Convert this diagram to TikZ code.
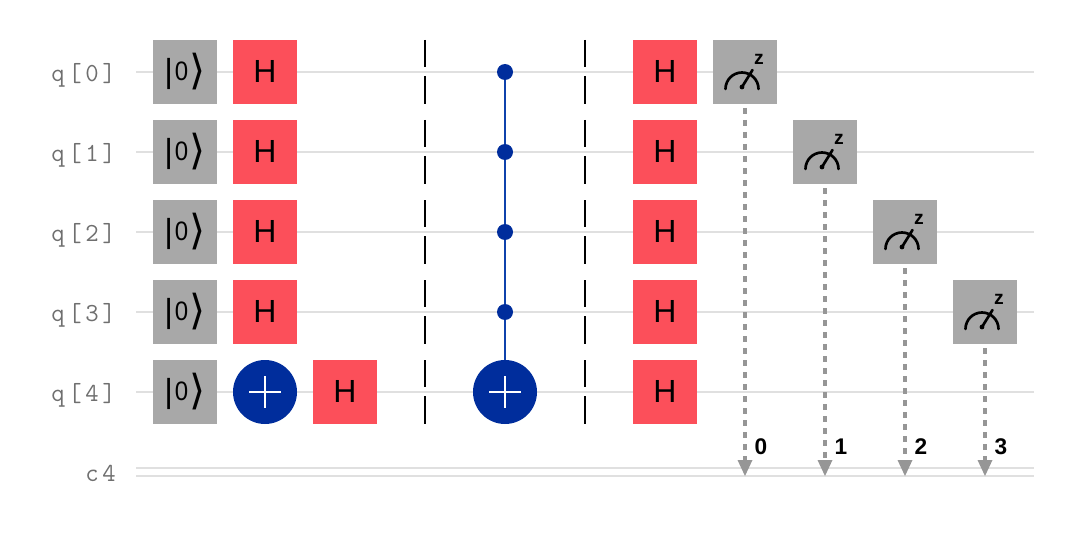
\documentclass[tikz,border=0pt]{standalone}
\usepackage{fontspec}
\setmainfont{Liberation Sans}
\setmonofont[LetterSpace=14]{Latin Modern Mono}
\newfontfamily\dejavu{DejaVu Sans}
\usetikzlibrary{calc,arrows.meta}
\definecolor{gatered}{HTML}{FC4F5A}
\definecolor{gategray}{HTML}{A8A8A8}
\definecolor{wirec}{HTML}{E0E0E0}
\definecolor{navy}{HTML}{002D9C}
\definecolor{linkb}{HTML}{0F42AC}
\definecolor{measc}{HTML}{969696}
\definecolor{labc}{HTML}{6F6F6F}
\tikzset{
  x=0.75pt,y=-0.75pt,
  wire/.style={draw=wirec,line width=1.5pt},
  regl/.style={anchor=east,inner sep=0pt,text=labc,font=\ttfamily\fontsize{19.5}{21}\selectfont},
  gatebox/.style={minimum size=48pt,inner sep=0pt,outer sep=0pt,fill=#1,text=black},
  hgate/.style={gatebox=gatered,font=\fontsize{24}{26}\selectfont},
  ket/.style={gatebox=gategray,font=\fontsize{20}{24}\selectfont},
  meas/.style={gatebox=gategray},
  target/.style={circle,minimum size=48pt,inner sep=0pt,outer sep=0pt,fill=navy},
  ctrl/.style={circle,minimum size=12pt,inner sep=0pt,outer sep=0pt,fill=navy},
  plusl/.style={draw=white,line width=1.6pt},
  barr/.style={draw=black,line width=1.5pt},
  link/.style={draw=linkb,line width=1.4pt},
  measl/.style={draw=measc,line width=2.4pt,dash pattern=on 4.5pt off 4.5pt},
  measa/.style={fill=measc,draw=none},
  clab/.style={inner sep=0pt,font=\bfseries\fontsize{17}{19}\selectfont},
  zlab/.style={inner sep=0pt,font=\bfseries\fontsize{14.5}{16}\selectfont},
  dial/.style={draw=black,line width=2pt,line cap=round},
}
\newcommand{\kettext}{{\fontsize{25}{26}\selectfont\raisebox{-1pt}{|}}\hspace{1.5pt}\raisebox{1pt}{\scalebox{0.9}[1.0]{0}}\hspace{1pt}{\dejavu\fontsize{31}{32}\selectfont\raisebox{-2.5pt}{⟩}}}
\newcommand{\hh}{\raisebox{1.5pt}{H}}
\begin{document}
\begin{tikzpicture}
\useasboundingbox (0,0) rectangle (1072,560);
% wires
\foreach \y in {72,152,232,312,392} \draw[wire] (136,\y) -- (1034,\y);
\draw[wire] (136,468) -- (1034,468);
\draw[wire] (136,476) -- (1034,476);
% labels
\foreach \i/\y in {0/75,1/155,2/235,3/315,4/395}
  \node[regl] (reg\i) at (116,\y) {q[\i]};
\node[regl] (regc) at (116,473) {c4};
% barriers
\foreach \bx in {425,585}
  \foreach \y in {72,152,232,312,392} {
    \draw[barr] (\bx,\y-32) -- (\bx,\y-5);
    \draw[barr] (\bx,\y+4) -- (\bx,\y+32);
  }
% reset
\foreach \i/\y in {0/72,1/152,2/232,3/312,4/392}
  \node[ket] (k\i) at (185,\y) {\kettext};
% H column 1
\foreach \i/\y in {0/72,1/152,2/232,3/312}
  \node[hgate] (ha\i) at (265,\y) {\hh};
\node[target] (ta) at (265,392) {};
\draw[plusl] ($(ta.center)+(-16,0)$) -- ($(ta.center)+(16,0)$);
\draw[plusl] ($(ta.center)+(0,-16)$) -- ($(ta.center)+(0,16)$);
\node[hgate] (hb) at (345,392) {\hh};
% multi control
\node[target] (tb) at (505,392) {};
\node[ctrl] (c0) at (505,72) {};
\node[ctrl] (c1) at (505,152) {};
\node[ctrl] (c2) at (505,232) {};
\node[ctrl] (c3) at (505,312) {};
\draw[link] (c0) -- (c1);
\draw[link] (c1) -- (c2);
\draw[link] (c2) -- (c3);
\draw[link] (c3) -- (tb);
\draw[plusl] ($(tb.center)+(-16,0)$) -- ($(tb.center)+(16,0)$);
\draw[plusl] ($(tb.center)+(0,-16)$) -- ($(tb.center)+(0,16)$);
% H column 2
\foreach \i/\y in {0/72,1/152,2/232,3/312,4/392}
  \node[hgate] (hc\i) at (665,\y) {\hh};
% measures
\foreach \i/\x/\y in {0/745/72,1/825/152,2/905/232,3/985/312} {
  \node[meas] (m\i) at (\x,\y) {};
  \draw[dial] ($(m\i.center)+(-19.5,17)$) arc[start angle=180,end angle=360,radius=16.5];
  \draw[dial] ($(m\i.center)+(-3,15)$) -- ($(m\i.center)+(7.5,-2)$);
  \fill ($(m\i.center)+(-3,15)$) circle[radius=2.4];
  \node[zlab] (z\i) at ($(m\i.center)+(14,-13)$) {z};
  \coordinate (e\i) at (\x,460);
  \coordinate (tip\i) at (\x,476);
  \draw[measl] ($(m\i.south)+(0,4)$) -- (e\i);
  \fill[measa] (\x-7.5,460) -- (\x+7.5,460) -- (tip\i) -- cycle;
  \node[clab] (cl\i) at (\x+16,447) {\i};
}
\end{tikzpicture}
\end{document}
